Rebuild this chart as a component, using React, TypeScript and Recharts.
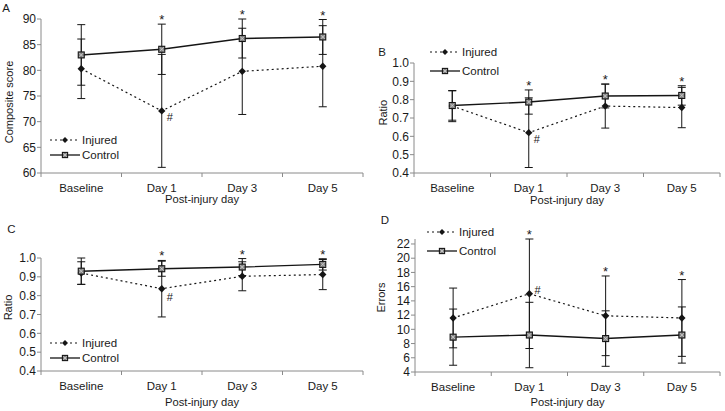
import React from 'react';
import { LineChart, Line, XAxis, YAxis, ErrorBar, ReferenceDot, LabelList, Legend } from 'recharts';

const categories = ['Baseline', 'Day 1', 'Day 3', 'Day 5'];
const significance = ['', '*', '*', '*'];
const injuredFlag = ['', '#', '', ''];
const seriesNames = ['Injured', 'Control'];
const xTitle = 'Post-injury day';

// Panel A – composite score
const injuredA = [80.3, 72.1, 79.8, 80.8];
const injuredErrA = [5.8, 11.0, 8.4, 7.9];
const controlA = [83.0, 84.1, 86.2, 86.5];
const controlErrA = [5.9, 4.9, 3.8, 3.4];
const ticksA = [60, 65, 70, 75, 80, 85, 90];

// Panel B – ratio
const injuredB = [0.765, 0.62, 0.765, 0.757];
const injuredErrB = [0.085, 0.19, 0.12, 0.11];
const controlB = [0.768, 0.787, 0.82, 0.823];
const controlErrB = [0.08, 0.066, 0.065, 0.053];
const ticksB = [0.4, 0.5, 0.6, 0.7, 0.8, 0.9, 1.0];

// Panel C – ratio
const injuredC = [0.92, 0.837, 0.903, 0.912];
const injuredErrC = [0.06, 0.15, 0.077, 0.08];
const controlC = [0.93, 0.943, 0.952, 0.966];
const controlErrC = [0.07, 0.04, 0.045, 0.03];
const ticksC = [0.4, 0.5, 0.6, 0.7, 0.8, 0.9, 1.0];

// Panel D – errors
const injuredD = [11.6, 15.0, 11.9, 11.6];
const injuredErrD = [4.2, 7.7, 5.6, 5.4];
const controlD = [8.9, 9.2, 8.7, 9.2];
const controlErrD = [3.95, 4.6, 3.9, 3.95];
const ticksD = [4, 6, 8, 10, 12, 14, 16, 18, 20, 22];

const TXT = '#1a1a1a';
const AXIS = '#8a8a8a';
const INK = '#151515';
const FONT = '"Liberation Sans", Arial, sans-serif';

const build = (inj: number[], injErr: number[], ctl: number[], ctlErr: number[]) =>
  categories.map((c, i) => ({
    x: i + 0.5,
    cat: c,
    inj: inj[i],
    injErr: injErr[i],
    ctl: ctl[i],
    ctlErr: ctlErr[i],
    sig: significance[i],
    flag: injuredFlag[i],
  }));

const XTick = (props: any) => {
  const { x, y, payload } = props;
  const v = payload.value;
  if (Number.isInteger(v)) {
    return <line x1={x} x2={x} y1={y} y2={y + 4} stroke={AXIS} strokeWidth={1} />;
  }
  return (
    <text x={x} y={y + 15} textAnchor="middle" dominantBaseline="central" fontSize={11.5} fill={TXT}>
      {categories[Math.floor(v)]}
    </text>
  );
};

const Diamond = ({ cx, cy, s = 3.7 }: any) => (
  <polygon points={`${cx},${cy - s} ${cx + s},${cy} ${cx},${cy + s} ${cx - s},${cy}`} fill={INK} />
);

const Square = ({ cx, cy, s = 3 }: any) => (
  <g>
    <rect x={cx - s} y={cy - s} width={2 * s} height={2 * s} fill="#858585" stroke={INK} strokeWidth={1.1} />
    <line x1={cx - s + 1} y1={cy - s + 1} x2={cx + s - 1} y2={cy + s - 1} stroke="#d0d0d0" strokeWidth={0.8} />
    <line x1={cx - s + 1} y1={cy + s - 1} x2={cx + s - 1} y2={cy - s + 1} stroke="#d0d0d0" strokeWidth={0.8} />
  </g>
);

const LegendBox = ({ gap }: { gap: number }) => (
  <svg width={100} height={gap + 16} style={{ display: 'block', overflow: 'visible' }}>
    <line x1={0} x2={30} y1={8} y2={8} stroke={INK} strokeWidth={1.2} strokeDasharray="2 3" />
    <Diamond cx={15} cy={8} s={3} />
    <text x={32} y={8} dominantBaseline="central" fontSize={11.5} fill={TXT}>{seriesNames[0]}</text>
    <line x1={0} x2={30} y1={8 + gap} y2={8 + gap} stroke={INK} strokeWidth={1.3} />
    <Square cx={15} cy={8 + gap} s={2.6} />
    <text x={32} y={8 + gap} dominantBaseline="central" fontSize={11.5} fill={TXT}>{seriesNames[1]}</text>
  </svg>
);

type PanelProps = {
  data: any[];
  left: number;
  top: number;
  width: number;
  height: number;
  margin: any;
  yWidth: number;
  xHeight: number;
  yDomain: [number, number];
  yTicks: number[];
  yDecimals: number;
  yTitle: string;
  yTitlePos: [number, number];
  xTitleY: number;
  legendPos: [number, number];
  legendGap: number;
  flagOffset: [number, number];
};

const Panel = (p: PanelProps) => {
  const { data } = p;
  return (
    <div style={{ position: 'absolute', left: p.left, top: p.top }}>
      <LineChart width={p.width} height={p.height} data={data} margin={p.margin}>
        <XAxis
          dataKey="x"
          type="number"
          domain={[0, 4]}
          ticks={[0, 0.5, 1, 1.5, 2, 2.5, 3, 3.5, 4]}
          tickSize={0}
          tickMargin={0}
          tickLine={false}
          tick={<XTick />}
          height={p.xHeight}
          axisLine={{ stroke: AXIS }}
          interval={0}
          label={(lp: any) => {
            const vb = lp.viewBox || {};
            return (
              <text x={vb.x + vb.width / 2} y={p.xTitleY} textAnchor="middle" dominantBaseline="central" fontSize={11.2} fill={TXT}>
                {xTitle}
              </text>
            );
          }}
        />
        <YAxis
          type="number"
          domain={() => p.yDomain}
          ticks={p.yTicks}
          interval={0}
          width={p.yWidth}
          tickSize={4}
          tickMargin={1}
          tickLine={{ stroke: AXIS }}
          axisLine={{ stroke: AXIS }}
          tick={{ fontSize: 12, fill: TXT }}
          tickFormatter={(v: number) => v.toFixed(p.yDecimals)}
          label={() => (
            <text
              x={p.yTitlePos[0]}
              y={p.yTitlePos[1]}
              transform={`rotate(-90 ${p.yTitlePos[0]} ${p.yTitlePos[1]})`}
              textAnchor="middle"
              dominantBaseline="central"
              fontSize={11}
              fill={TXT}
            >
              {p.yTitle}
            </text>
          )}
        />
        <Legend
          layout="vertical"
          align="center"
          verticalAlign="middle"
          wrapperStyle={{ left: p.legendPos[0], top: p.legendPos[1], width: 100, height: p.legendGap + 16 }}
          content={() => <LegendBox gap={p.legendGap} />}
        />
        <Line
          dataKey="inj"
          name={seriesNames[0]}
          stroke={INK}
          strokeWidth={1.2}
          strokeDasharray="2 3"
          isAnimationActive={false}
          dot={(dp: any) => <Diamond key={`i-${dp.index}`} cx={dp.cx} cy={dp.cy} />}
          activeDot={false}
        >
          <ErrorBar dataKey="injErr" direction="y" width={4} stroke={INK} strokeWidth={1} />
          <LabelList
            dataKey="flag"
            content={(lp: any) =>
              lp.value ? (
                <text x={lp.x + p.flagOffset[0]} y={lp.y + p.flagOffset[1]} dominantBaseline="central" fontSize={11} fill={TXT}>
                  {lp.value}
                </text>
              ) : null
            }
          />
        </Line>
        <Line
          dataKey="ctl"
          name={seriesNames[1]}
          stroke={INK}
          strokeWidth={1.4}
          isAnimationActive={false}
          dot={(dp: any) => <Square key={`c-${dp.index}`} cx={dp.cx} cy={dp.cy} />}
          activeDot={false}
        >
          <ErrorBar dataKey="ctlErr" direction="y" width={4} stroke={INK} strokeWidth={1} />
        </Line>
        {data
          .filter((d) => d.sig)
          .map((d) => (
            <ReferenceDot
              key={`s-${d.x}`}
              x={d.x}
              y={Math.max(d.inj + d.injErr, d.ctl + d.ctlErr)}
              r={0}
              fill="none"
              stroke="none"
              ifOverflow="visible"
              label={{ value: d.sig, position: 'top', offset: 0, fontSize: 13, fill: TXT }}
            />
          ))}
      </LineChart>
    </div>
  );
};

const letters: [string, number, number][] = [
  ['A', 6, 8],
  ['B', 382, 52],
  ['C', 11.5, 229],
  ['D', 385, 220],
];

export default function App() {
  return (
    <div
      style={{
        position: 'fixed',
        left: 0,
        top: 0,
        width: 725,
        height: 411,
        background: '#fff',
        fontFamily: FONT,
        overflow: 'hidden',
      }}
    >
      <Panel
        data={build(injuredA, injuredErrA, controlA, controlErrA)}
        left={0}
        top={0}
        width={370}
        height={210}
        margin={{ top: 19, right: 7, bottom: 0, left: 0 }}
        yWidth={41}
        xHeight={37}
        yDomain={[60, 90]}
        yTicks={ticksA}
        yDecimals={0}
        yTitle="Composite score"
        yTitlePos={[8.5, 102]}
        xTitleY={199}
        legendPos={[50, 132]}
        legendGap={15}
        flagOffset={[5, 6]}
      />
      <Panel
        data={build(injuredB, injuredErrB, controlB, controlErrB)}
        left={370}
        top={0}
        width={355}
        height={210}
        margin={{ top: 63, right: 5, bottom: 0, left: 0 }}
        yWidth={44}
        xHeight={37}
        yDomain={[0.4, 1.0]}
        yTicks={ticksB}
        yDecimals={1}
        yTitle="Ratio"
        yTitlePos={[12.7, 112.7]}
        xTitleY={200}
        legendPos={[60, 44]}
        legendGap={19}
        flagOffset={[5, 6]}
      />
      <Panel
        data={build(injuredC, injuredErrC, controlC, controlErrC)}
        left={0}
        top={205}
        width={370}
        height={206}
        margin={{ top: 53, right: 7, bottom: 5, left: 0 }}
        yWidth={41}
        xHeight={35}
        yDomain={[0.4, 1.0]}
        yTicks={ticksC}
        yDecimals={1}
        yTitle="Ratio"
        yTitlePos={[7.5, 102.5]}
        xTitleY={196.7}
        legendPos={[50, 130.3]}
        legendGap={15}
        flagOffset={[5, 8]}
      />
      <Panel
        data={build(injuredD, injuredErrD, controlD, controlErrD)}
        left={370}
        top={205}
        width={355}
        height={206}
        margin={{ top: 34, right: 5, bottom: 3, left: 0 }}
        yWidth={45}
        xHeight={36}
        yDomain={[4, 22]}
        yTicks={ticksD}
        yDecimals={0}
        yTitle="Errors"
        yTitlePos={[11, 92.5]}
        xTitleY={196.7}
        legendPos={[57, 18.7]}
        legendGap={19}
        flagOffset={[5, -4]}
      />
      <svg width={725} height={411} style={{ position: 'absolute', left: 0, top: 0, pointerEvents: 'none' }}>
        {letters.map(([t, x, y]) => (
          <text key={t} x={x} y={y} textAnchor="middle" dominantBaseline="central" fontSize={11.5} fill={TXT}>
            {t}
          </text>
        ))}
      </svg>
    </div>
  );
}
